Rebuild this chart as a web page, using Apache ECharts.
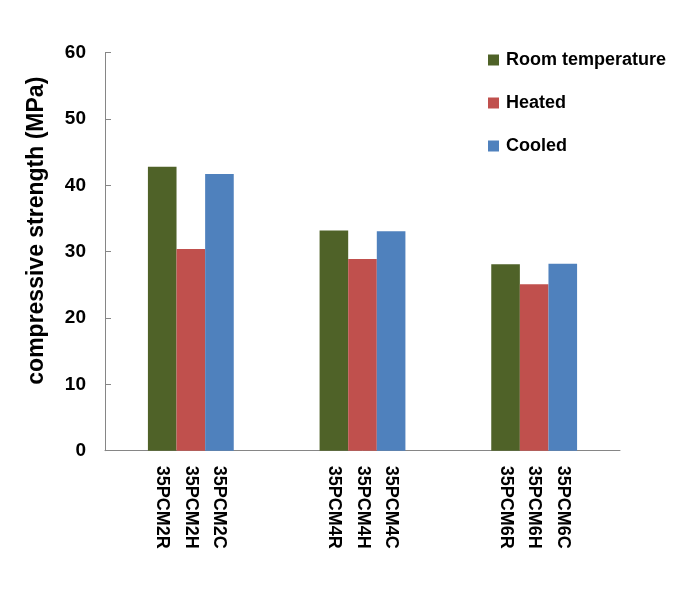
<!DOCTYPE html>
<html>
<head>
<meta charset="utf-8">
<script src="https://cdn.jsdelivr.net/npm/echarts@6/dist/echarts.min.js"></script>
<style>html,body{margin:0;padding:0;background:#fff;}#c{width:695px;height:599px;}</style>
</head>
<body>
<div id="c"></div>
<script>
var categories = ['35PCM2', '35PCM4', '35PCM6'];
var seriesNames = ['Room temperature', 'Heated', 'Cooled'];
var roomValues = [42.8, 33.2, 28.1];
var heatedValues = [30.4, 28.9, 25.1];
var cooledValues = [41.7, 33.1, 28.2];
var roomLabels = ['35PCM2R', '35PCM4R', '35PCM6R'];
var heatedLabels = ['35PCM2H', '35PCM4H', '35PCM6H'];
var cooledLabels = ['35PCM2C', '35PCM4C', '35PCM6C'];
var yTicks = [0, 10, 20, 30, 40, 50, 60];

var colors = ['#4F6228', '#C0504D', '#4F81BD'];
var FONT = 'Liberation Sans';

function mkSeries(name, values, labels, color) {
  return {
    name: name,
    type: 'bar',
    data: values,
    barGap: '0%',
    barCategoryGap: '50%',
    itemStyle: { color: color },
    label: {
      show: true,
      position: 'bottom',
      distance: 15,
      rotate: -90,
      align: 'left',
      verticalAlign: 'middle',
      fontFamily: FONT,
      fontWeight: 'bold',
      fontSize: 18,
      color: '#000',
      formatter: function (p) { return labels[p.dataIndex]; }
    }
  };
}

var chart = echarts.init(document.getElementById('c'));
chart.setOption({
  animation: false,
  color: colors,
  grid: { left: 105, right: 75, top: 52.7, bottom: 148.3, containLabel: false },
  legend: {
    orient: 'vertical',
    left: 488,
    top: 51,
    padding: 0,
    itemWidth: 11,
    itemHeight: 11,
    itemGap: 25,
    icon: 'rect',
    textStyle: { fontFamily: FONT, fontWeight: 'bold', fontSize: 18, color: '#000', padding: [0, 0, 0, 2] },
    data: seriesNames
  },
  xAxis: {
    type: 'category',
    data: categories,
    axisLine: { lineStyle: { color: '#868686', width: 1 } },
    axisTick: { show: false },
    axisLabel: { show: false }
  },
  yAxis: {
    type: 'value',
    min: yTicks[0],
    max: yTicks[yTicks.length - 1],
    interval: 10,
    name: 'compressive strength (MPa)',
    nameLocation: 'middle',
    nameGap: 57,
    nameRotate: 90,
    nameTextStyle: { fontFamily: FONT, fontWeight: 'bold', fontSize: 23, color: '#000', padding: [0, 0, 0, 42] },
    axisLine: { show: true, lineStyle: { color: '#868686', width: 1 } },
    axisTick: { show: true, inside: true, length: 6, lineStyle: { color: '#868686' } },
    splitLine: { show: false },
    axisLabel: { margin: 19, fontFamily: FONT, fontWeight: 'bold', fontSize: 19, color: '#000' }
  },
  series: [
    mkSeries(seriesNames[0], roomValues, roomLabels, colors[0]),
    mkSeries(seriesNames[1], heatedValues, heatedLabels, colors[1]),
    mkSeries(seriesNames[2], cooledValues, cooledLabels, colors[2])
  ]
});
</script>
</body>
</html>
